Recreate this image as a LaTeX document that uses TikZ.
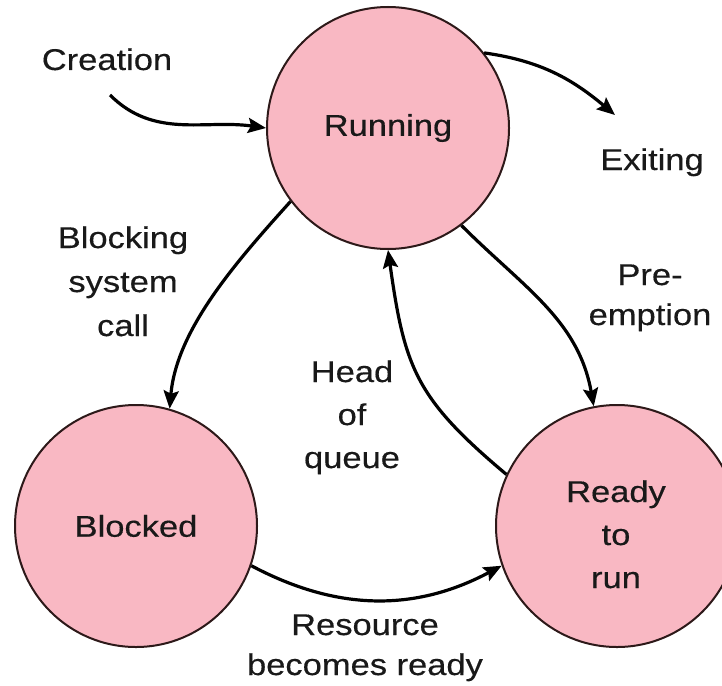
\documentclass[tikz,border=0pt]{standalone}
\usepackage{fontspec}
\setmainfont{Liberation Sans}[FakeStretch=1.15,FakeBold=0.4]
\usetikzlibrary{arrows.meta}
\definecolor{statepink}{RGB}{249,184,195}
\definecolor{edgedark}{RGB}{45,25,25}
\definecolor{textdark}{RGB}{25,25,25}
\begin{document}
\begin{tikzpicture}[x=1pt,y=1pt,
  state/.style={circle, draw=edgedark, line width=2pt, fill=statepink, minimum size=242pt, inner sep=0pt, font=\fontsize{30}{43}\selectfont, text=textdark},
  lbl/.style={align=center, font=\fontsize{30}{43}\selectfont, text=textdark, inner sep=0pt},
  lbltight/.style={lbl, font=\fontsize{30}{40}\selectfont},
  flow/.style={line width=3.2pt, -{Stealth[length=18pt,width=15pt,inset=3pt]}},
]
\useasboundingbox (0,0) rectangle (722,-685);
\clip (0,0) rectangle (722,-685);
\node[state] (running) at (388,-128) {Running};
\node[state] (blocked) at (136,-526) {Blocked};
\node[state] (ready) at (617,-526) {};
\node[lbl, anchor=base] (readytxt) at (616,-588) {Ready\\to\\run};

\node[lbl, anchor=base] (creation) at (107,-70) {Creation};
\node[lbl, anchor=base] (exiting) at (652,-170) {Exiting};
\node[lbl, anchor=base, font=\fontsize{30}{44}\selectfont] (blocking) at (123,-336) {Blocking\\system\\call};
\node[lbl, anchor=base] (head) at (352,-468) {Head\\of\\queue};
\node[lbltight, anchor=base] (pre) at (650,-325) {Pre-\\emption};
\node[lbltight, anchor=base] (resource) at (365,-675) {Resource\\becomes ready};

\coordinate (cstart) at (110,-95);
\coordinate (xend) at (615,-115);

\draw[flow] (cstart) to[out=-45,in=172] (running.west);
\draw[flow] (running.38) to[out=-8,in=140] (xend);
\draw[flow] (running.217) to[out=228,in=85,looseness=0.85] (blocked.74);
\draw[flow] (running.307) to[out=-45,in=100] (ready.101);
\draw[flow] (ready.155) to[out=140,in=-82,looseness=1.2] (running.270);
\draw[flow] (blocked.341) to[out=-28,in=-152] (ready.199);
\end{tikzpicture}
\end{document}
